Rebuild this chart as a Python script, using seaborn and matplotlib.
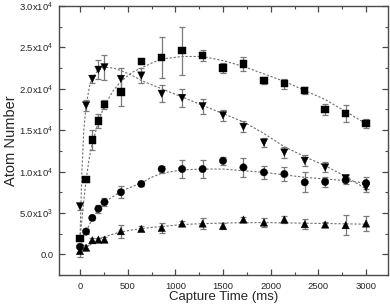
import numpy as np
import pandas as pd
import matplotlib
matplotlib.use('Agg')
import matplotlib.pyplot as plt
import seaborn as sns
from matplotlib.ticker import MultipleLocator, FixedLocator, FixedFormatter

# capture times (ms)
t = [0, 64, 129, 193, 257, 429, 643, 857, 1071, 1286, 1500, 1714, 1929,
     2143, 2357, 2571, 2786, 3000]

# square series
sq_y = [1900, 9000, 13800, 16100, 18100, 19600, 23300, 23800, 24600, 24000,
        22500, 23000, 21000, 20600, 19800, 17500, 17000, 15800]
sq_err = [300, 300, 1200, 850, 550, 1700, 300, 2500, 2900, 700,
          650, 830, 450, 600, 400, 700, 1000, 600]

# down-triangle series
dn_y = [5800, 18000, 21200, 22300, 22600, 21200, 21600, 19400, 18900, 17900,
        16800, 15400, 13500, 12300, 11300, 10500, 9200, 8100]
dn_err = [400, 650, 450, 1150, 1500, 1250, 900, 1000, 1100, 900,
          650, 670, 570, 700, 650, 600, 400, 600]

# circle series
ci_y = [900, 2750, 4400, 5500, 6300, 7500, 8500, 10300, 10300, 10300,
        11300, 10500, 9900, 9700, 8700, 8750, 8950, 8600]
ci_err = [300, 300, 250, 450, 500, 700, 300, 420, 1100, 1070,
          460, 1150, 750, 900, 1200, 570, 400, 750]

# up-triangle series
up_y = [400, 800, 1700, 1780, 1780, 2790, 3070, 3190, 3720, 3720,
        3430, 4200, 3840, 4200, 3640, 3600, 3520, 3720]
up_err = [700, 300, 250, 250, 300, 800, 300, 600, 300, 650,
          350, 350, 600, 450, 600, 360, 1170, 850]

# dashed fit curves
fit_t = [0, 20, 40, 64, 100, 129, 193, 257, 350, 429, 550, 643, 750, 857,
         1071, 1286, 1500, 1714, 1929, 2143, 2357, 2571, 2786, 3000]
sq_fit = [1900, 4200, 6500, 9000, 11800, 13400, 16000, 18000, 19800, 20900,
          22000, 22500, 23100, 23600, 23900, 23900, 23400, 22700, 21800,
          20900, 19800, 18700, 17250, 15760]
dn_fit = [1900, 10000, 15000, 18000, 20300, 21300, 22300, 22600, 22500, 22200,
          21600, 21000, 20500, 20000, 19000, 18000, 17000, 16000, 14600,
          13000, 11800, 10700, 9400, 7900]
ci_fit = [1000, 1600, 2200, 2800, 3600, 4300, 5400, 6300, 7000, 7600,
          8200, 8600, 9300, 9800, 10200, 10300, 10300, 10100, 9900,
          9600, 9300, 9100, 8900, 8600]
up_fit = [300, 450, 600, 800, 1100, 1350, 1800, 2100, 2450, 2700,
          2950, 3100, 3250, 3350, 3600, 3700, 3780, 3820, 3830,
          3800, 3760, 3720, 3680, 3640]

y_ticks = [0, 5000, 10000, 15000, 20000, 25000, 30000]
y_labels = ['0.0', '5.0x10$^3$', '1.0x10$^4$', '1.5x10$^4$',
            '2.0x10$^4$', '2.5x10$^4$', '3.0x10$^4$']

sns.set_style('ticks')
plt.rcParams['font.family'] = ['Liberation Sans', 'DejaVu Sans']
plt.rcParams['mathtext.default'] = 'regular'

series = [('sq', sq_y, sq_err, sq_fit, 's'),
          ('dn', dn_y, dn_err, dn_fit, 'v'),
          ('ci', ci_y, ci_err, ci_fit, 'o'),
          ('up', up_y, up_err, up_fit, '^')]

pts = pd.concat([pd.DataFrame({'t': t, 'y': y, 'err': e, 's': name})
                 for name, y, e, _, _ in series])
fits = pd.concat([pd.DataFrame({'t': fit_t, 'y': f, 's': name})
                  for name, _, _, f, _ in series])

fig = plt.figure(figsize=(3.9, 3.06), dpi=100)
ax = fig.add_axes([59 / 390, 31 / 306, 329 / 390, 269 / 306])

grey = '#6e6e6e'
sns.lineplot(data=fits, x='t', y='y', units='s', estimator=None, ax=ax,
             color=grey, lw=0.8, dashes=False, linestyle=(0, (2, 1.6)),
             legend=False)
for name, y, e, _, m in series:
    ax.errorbar(t, y, yerr=e, fmt='none', ecolor='#7a7a7a', elinewidth=0.9,
                capsize=2.5, capthick=0.9, zorder=3)
sns.scatterplot(data=pts, x='t', y='y', style='s',
                markers={n: m for n, _, _, _, m in series},
                color='black', edgecolor='black', s=28, linewidth=0.3,
                ax=ax, legend=False, zorder=4)

ax.set_xlim(-220, 3230)
ax.set_ylim(-2500, 30000)
ax.xaxis.set_major_locator(MultipleLocator(500))
ax.xaxis.set_minor_locator(MultipleLocator(250))
ax.yaxis.set_major_locator(FixedLocator(y_ticks))
ax.yaxis.set_major_formatter(FixedFormatter(y_labels))
ax.yaxis.set_minor_locator(MultipleLocator(2500))

for sp in ax.spines.values():
    sp.set_visible(True)
    sp.set_color('#4a4a4a')
    sp.set_linewidth(1.0)
ax.tick_params(which='both', direction='in', top=True, right=True,
               color='#4a4a4a', labelsize=6.8, pad=4)
ax.tick_params(which='major', length=4, width=0.9)
ax.tick_params(which='minor', length=2.5, width=0.8)
ax.tick_params(axis='x', pad=5)

ax.set_xlabel('Capture Time (ms)', fontsize=9.5, labelpad=0)
ax.set_ylabel('Atom Number', fontsize=10.5, labelpad=1)

fig.savefig('out.png', dpi=100)
